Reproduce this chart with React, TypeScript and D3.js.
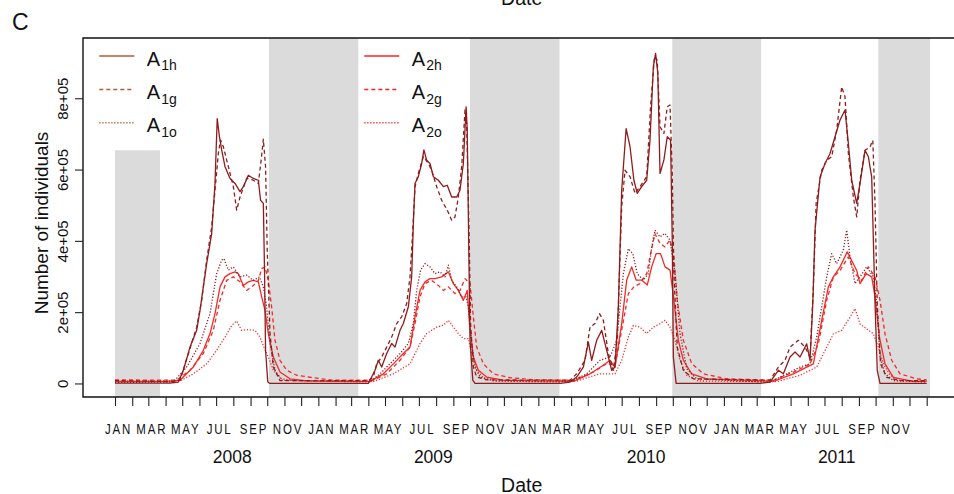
import React, { useRef, useEffect } from 'react';
import * as d3 from 'd3';

// [day since 2008-01-01, number of individuals in thousands]
const a1h: [number, number][] = [
  [0, 1], [99, 1], [114, 4], [123, 37], [135, 102], [147, 149], [153, 205], [159, 271], [165, 336], [174, 420], [180, 561], [184, 743], [188, 692], [192, 655], [198, 608], [207, 575], [216, 561], [225, 538], [231, 552], [240, 584], [249, 575], [258, 570], [262, 514], [267, 505], [269, 327], [271, 93], [275, 4], [279, 0],
  [456, 0], [468, 37], [474, 65], [480, 46], [489, 84], [498, 112], [504, 102], [513, 149], [519, 168], [528, 215], [534, 299], [537, 449], [540, 561], [546, 580], [552, 617], [556, 655], [561, 626], [567, 617], [573, 580], [582, 570], [591, 552], [598, 556], [606, 523], [615, 523], [621, 542], [627, 617], [632, 776], [634, 711], [637, 355], [639, 121], [644, 9], [648, 0],
  [801, 0], [819, 4], [831, 18], [843, 46], [852, 116], [858, 65], [867, 121], [876, 149], [885, 93], [894, 37], [900, 46], [906, 215], [912, 542], [920, 715], [927, 664], [934, 570], [940, 533], [948, 552], [957, 570], [963, 683], [969, 889], [973, 926], [977, 870], [981, 589], [988, 627], [994, 692], [1000, 683], [1003, 402], [1005, 74], [1010, 0],
  [1161, 0], [1179, 4], [1194, 37], [1203, 27], [1215, 74], [1224, 88], [1233, 74], [1245, 111], [1251, 65], [1256, 224], [1260, 430], [1269, 579], [1278, 617], [1287, 645], [1296, 692], [1305, 739], [1314, 767], [1320, 673], [1326, 570], [1335, 505], [1341, 561], [1350, 654], [1356, 636], [1362, 579], [1368, 224], [1372, 37], [1377, 0], [1461, 0],
];

const a1g: [number, number][] = [
  [0, 8], [102, 5], [117, 9], [132, 83], [147, 158], [156, 233], [165, 346], [174, 439], [180, 542], [186, 645], [190, 683], [195, 664], [204, 608], [213, 552], [219, 486], [225, 523], [237, 575], [249, 570], [258, 561], [263, 626], [267, 685], [271, 608], [274, 374], [279, 140], [285, 46], [297, 8],
  [456, 8], [465, 18], [471, 55], [480, 74], [489, 102], [498, 130], [507, 168], [516, 187], [525, 224], [531, 299], [536, 430], [540, 552], [546, 589], [555, 636], [564, 617], [570, 598], [579, 552], [588, 514], [598, 486], [606, 458], [612, 467], [618, 523], [624, 608], [630, 767], [633, 729], [637, 449], [640, 168], [645, 46], [651, 18], [669, 10],
  [819, 9], [831, 27], [846, 65], [855, 158], [864, 168], [872, 196], [879, 177], [888, 84], [897, 37], [904, 121], [912, 496], [918, 598], [927, 580], [936, 533], [945, 552], [957, 580], [964, 776], [971, 917], [976, 907], [981, 720], [988, 701], [994, 776], [999, 781], [1003, 589], [1006, 308], [1012, 102], [1023, 37], [1041, 13],
  [1179, 9], [1194, 46], [1206, 65], [1215, 102], [1230, 121], [1242, 102], [1251, 74], [1257, 270], [1262, 505], [1272, 598], [1281, 626], [1290, 636], [1299, 711], [1308, 832], [1314, 804], [1320, 645], [1329, 523], [1335, 467], [1341, 570], [1350, 654], [1359, 664], [1364, 682], [1368, 505], [1372, 224], [1378, 55], [1389, 17], [1413, 8], [1461, 8],
];

const a1o: [number, number][] = [
  [0, 3], [105, 4], [129, 46], [153, 112], [171, 196], [183, 308], [192, 346], [196, 350], [204, 318], [213, 327], [225, 299], [237, 304], [249, 289], [260, 299], [267, 271], [273, 214], [279, 112], [288, 37], [300, 9],
  [459, 4], [477, 27], [495, 55], [513, 84], [528, 112], [537, 168], [543, 261], [550, 318], [558, 336], [567, 327], [576, 308], [585, 313], [594, 299], [600, 332], [606, 289], [615, 271], [624, 243], [632, 243], [636, 215], [642, 112], [648, 46], [657, 18], [681, 7],
  [801, 4], [825, 9], [849, 27], [873, 65], [891, 74], [903, 121], [915, 308], [924, 378], [932, 364], [940, 308], [951, 290], [960, 308], [966, 383], [972, 430], [981, 411], [990, 421], [999, 402], [1008, 308], [1017, 140], [1029, 41], [1047, 13],
  [1165, 4], [1179, 4], [1209, 27], [1233, 46], [1251, 55], [1263, 130], [1281, 299], [1290, 364], [1299, 336], [1311, 374], [1317, 430], [1323, 355], [1332, 280], [1341, 299], [1353, 327], [1365, 299], [1371, 224], [1377, 74], [1386, 27], [1401, 8], [1461, 4],
];

const a2h: [number, number][] = [
  [0, 6], [93, 6], [117, 9], [141, 46], [159, 93], [171, 140], [180, 196], [189, 271], [198, 299], [207, 308], [216, 313], [222, 308], [231, 275], [240, 285], [249, 289], [258, 285], [264, 243], [270, 205], [276, 140], [285, 74], [297, 32], [315, 13], [345, 7],
  [459, 6], [483, 27], [501, 55], [519, 84], [531, 102], [540, 187], [549, 261], [558, 285], [567, 294], [576, 294], [588, 299], [600, 313], [609, 280], [618, 261], [627, 233], [634, 261], [638, 168], [645, 74], [654, 37], [669, 18], [699, 9],
  [825, 6], [855, 27], [879, 51], [891, 65], [900, 46], [912, 168], [921, 290], [930, 327], [938, 290], [948, 290], [958, 276], [966, 327], [974, 364], [982, 364], [990, 327], [999, 318], [1006, 233], [1014, 121], [1023, 65], [1038, 27], [1065, 13],
  [1185, 6], [1221, 27], [1245, 46], [1257, 55], [1272, 177], [1284, 271], [1293, 299], [1305, 327], [1318, 369], [1326, 345], [1335, 317], [1341, 280], [1352, 308], [1362, 299], [1368, 243], [1376, 130], [1386, 55], [1401, 17], [1437, 6], [1461, 6],
];

const a2g: [number, number][] = [
  [0, 10], [111, 9], [135, 37], [159, 84], [177, 149], [189, 233], [201, 289], [213, 299], [225, 285], [237, 261], [249, 275], [258, 289], [264, 322], [270, 327], [276, 289], [282, 214], [288, 121], [297, 65], [309, 37], [327, 23], [357, 16], [393, 9],
  [465, 9], [489, 27], [513, 65], [531, 102], [540, 168], [549, 243], [558, 280], [570, 289], [582, 275], [591, 261], [600, 271], [612, 252], [621, 261], [630, 294], [639, 280], [645, 187], [651, 102], [663, 55], [681, 27], [711, 16], [759, 10],
  [825, 9], [861, 32], [885, 56], [900, 51], [912, 149], [924, 252], [934, 271], [945, 280], [957, 308], [964, 364], [972, 420], [981, 393], [990, 383], [999, 402], [1006, 355], [1012, 233], [1023, 121], [1038, 56], [1059, 27], [1101, 13],
  [1185, 9], [1221, 32], [1251, 55], [1266, 111], [1281, 233], [1293, 299], [1305, 317], [1320, 355], [1332, 308], [1344, 289], [1356, 327], [1368, 299], [1377, 233], [1386, 139], [1398, 65], [1413, 27], [1443, 13], [1461, 10],
];

const a2o: [number, number][] = [
  [0, 7], [117, 7], [141, 27], [165, 55], [183, 93], [198, 130], [210, 163], [219, 175], [228, 149], [240, 151], [252, 149], [261, 130], [268, 102], [276, 74], [285, 37], [300, 13], [330, 7],
  [465, 5], [501, 27], [531, 55], [549, 112], [561, 140], [579, 158], [591, 163], [600, 177], [609, 158], [618, 140], [627, 126], [636, 126], [642, 84], [651, 37], [663, 16], [690, 7],
  [831, 7], [873, 27], [900, 27], [912, 65], [924, 130], [933, 163], [945, 158], [957, 140], [969, 158], [981, 168], [990, 177], [999, 158], [1008, 121], [1017, 65], [1029, 23], [1050, 7],
  [1191, 5], [1233, 23], [1263, 46], [1281, 102], [1293, 139], [1308, 149], [1323, 186], [1332, 210], [1341, 167], [1353, 153], [1365, 139], [1374, 102], [1383, 55], [1395, 23], [1413, 8], [1461, 7],
];

// winter periods (shaded), first one only reaches 654e3
const winters: [string, string, number | null][] = [
  ['2008-01-01', '2008-03-22', 654000],
  ['2008-10-04', '2009-03-14', null],
  ['2009-10-01', '2010-03-11', null],
  ['2010-09-30', '2011-03-09', null],
  ['2011-10-06', '2012-01-07', null],
];

const monthLabels = ['JAN', 'MAR', 'MAY', 'JUL', 'SEP', 'NOV'];
const yearLabels: [string, string][] = [
  ['2008', '2008-07-30'],
  ['2009', '2009-07-27'],
  ['2010', '2010-08-14'],
  ['2011', '2011-07-23'],
];
const yTicks = [0, 200000, 400000, 600000, 800000];

const dark = '#8e1c1c';
const red = '#f22a2a';
const series = [
  { key: 'A2h', data: a2h, color: red, dash: null },
  { key: 'A2g', data: a2g, color: red, dash: '4,3' },
  { key: 'A2o', data: a2o, color: red, dash: '1.2,1.8' },
  { key: 'A1h', data: a1h, color: dark, dash: null },
  { key: 'A1g', data: a1g, color: dark, dash: '4,3' },
  { key: 'A1o', data: a1o, color: dark, dash: '1.2,1.8' },
];

const legendItems = [
  { sub: '1h', color: '#b45a32', dash: null, col: 0, row: 0 },
  { sub: '1g', color: '#b45a32', dash: '4,3', col: 0, row: 1 },
  { sub: '1o', color: '#b45a32', dash: '1.2,1.8', col: 0, row: 2 },
  { sub: '2h', color: '#ff2020', dash: null, col: 1, row: 0 },
  { sub: '2g', color: '#ff2020', dash: '4,3', col: 1, row: 1 },
  { sub: '2o', color: '#ff2020', dash: '1.2,1.8', col: 1, row: 2 },
];

const FONT = '"Liberation Sans", Arial, sans-serif';
const t0 = Date.UTC(2008, 0, 1);
const dayToDate = (d: number) => new Date(t0 + d * 864e5);
const parse = (s: string) => new Date(s + 'T00:00:00Z');

const App = () => {
  const chartRef = useRef<SVGSVGElement | null>(null);

  useEffect(() => {
    d3.select(chartRef.current).selectAll('*').remove();
    const svg = d3.select(chartRef.current);

    const left = 83, top = 38, bottom = 397;

    const x = d3.scaleUtc()
      .domain([parse('2008-01-01'), parse('2012-01-01')])
      .range([115, 926.7]);
    const y = d3.scaleLinear()
      .domain([-38000, 969000])
      .range([bottom, top]);

    // shaded winters
    svg.append('g')
      .selectAll('rect')
      .data(winters)
      .join('rect')
      .attr('x', d => x(parse(d[0])))
      .attr('width', d => x(parse(d[1])) - x(parse(d[0])))
      .attr('y', d => (d[2] === null ? top : y(d[2])))
      .attr('height', d => bottom - (d[2] === null ? top : y(d[2])))
      .attr('fill', '#dbdbdb');

    const line = d3.line<[number, number]>()
      .x(d => x(dayToDate(d[0])))
      .y(d => y(d[1] * 1000));

    svg.append('g')
      .selectAll('path')
      .data(series)
      .join('path')
      .attr('d', d => line(d.data))
      .attr('fill', 'none')
      .attr('stroke', d => d.color)
      .attr('stroke-width', 1.3)
      .attr('stroke-dasharray', d => d.dash)
      .attr('stroke-linejoin', 'round');

    // box
    svg.append('path')
      .attr('d', `M960,${top}H${left}V${bottom}H960`)
      .attr('fill', 'none')
      .attr('stroke', '#111')
      .attr('stroke-width', 1.4);

    // x axis
    const xAxis = d3.axisBottom(x)
      .ticks(d3.utcMonth.every(1))
      .tickSize(9)
      .tickFormat((d: any) => {
        const dt = d as Date;
        const m = dt.getUTCMonth();
        if (dt.getUTCFullYear() > 2011) return '';
        return m % 2 === 0 ? monthLabels[m / 2] : '';
      });
    const gx = svg.append('g')
      .attr('transform', `translate(0,${bottom})`)
      .call(xAxis);
    gx.select('.domain').remove();
    gx.selectAll('line').attr('stroke', '#222').attr('stroke-width', 1.1);
    gx.selectAll('text')
      .attr('transform', 'scale(1,1.25)')
      .attr('y', 29.6)
      .attr('dy', 0)
      .attr('dx', 3)
      .attr('font-family', FONT)
      .attr('font-size', 11.5)
      .attr('letter-spacing', 1.8)
      .attr('fill', '#111');

    svg.append('g')
      .selectAll('text')
      .data(yearLabels)
      .join('text')
      .attr('x', d => x(parse(d[1])))
      .attr('y', 463)
      .attr('text-anchor', 'middle')
      .attr('font-family', FONT)
      .attr('font-size', 17.5)
      .attr('fill', '#111')
      .text(d => d[0]);

    // y axis
    const yAxis = d3.axisLeft(y)
      .tickValues(yTicks)
      .tickSize(8)
      .tickFormat((d: any) => (d === 0 ? '0' : `${d / 100000}e+05`));
    const gy = svg.append('g')
      .attr('transform', `translate(${left},0)`)
      .call(yAxis);
    gy.select('.domain').remove();
    gy.selectAll('line').attr('stroke', '#222').attr('stroke-width', 1.1);
    gy.selectAll('text')
      .attr('transform', 'rotate(-90)')
      .attr('x', 0)
      .attr('y', -15)
      .attr('dy', 0)
      .attr('text-anchor', 'middle')
      .attr('font-family', FONT)
      .attr('font-size', 15)
      .attr('fill', '#111');

    svg.append('text')
      .attr('transform', 'translate(47.5,223) rotate(-90)')
      .attr('text-anchor', 'middle')
      .attr('font-family', FONT)
      .attr('font-size', 19)
      .attr('fill', '#111')
      .text('Number of individuals');

    svg.append('text')
      .attr('x', 521.7).attr('y', 491.5)
      .attr('text-anchor', 'middle')
      .attr('font-family', FONT)
      .attr('font-size', 19.5)
      .attr('fill', '#111')
      .text('Date');

    // previous panel's axis title, cut off at the top as in the source figure
    svg.append('text')
      .attr('x', 521.7).attr('y', 5)
      .attr('text-anchor', 'middle')
      .attr('font-family', FONT)
      .attr('font-size', 19.5)
      .attr('fill', '#111')
      .text('Date');

    svg.append('text')
      .attr('x', 12).attr('y', 30)
      .attr('font-family', FONT)
      .attr('font-size', 23)
      .attr('fill', '#111')
      .text('C');

    // legend
    const lineX = [99.3, 364.3];
    const rowY = [56, 89.5, 122.7];
    const lg = svg.append('g')
      .selectAll('g')
      .data(legendItems)
      .join('g')
      .attr('transform', d => `translate(${lineX[d.col]},${rowY[d.row]})`);
    lg.append('line')
      .attr('x1', 0).attr('x2', 35)
      .attr('stroke', d => d.color)
      .attr('stroke-width', 1.4)
      .attr('stroke-dasharray', d => d.dash);
    const lt = lg.append('text')
      .attr('x', 47.5)
      .attr('y', 9.5)
      .attr('font-family', FONT)
      .attr('font-size', 20)
      .attr('fill', '#111')
      .text('A');
    lt.append('tspan')
      .attr('dy', 4.5)
      .attr('dx', 1)
      .attr('font-size', 14)
      .text(d => d.sub);
  }, []);

  return (
    <svg
      ref={chartRef}
      width={954}
      height={494}
      style={{ position: 'absolute', left: 0, top: 0, background: '#fff' }}
    ></svg>
  );
};

export default App;
